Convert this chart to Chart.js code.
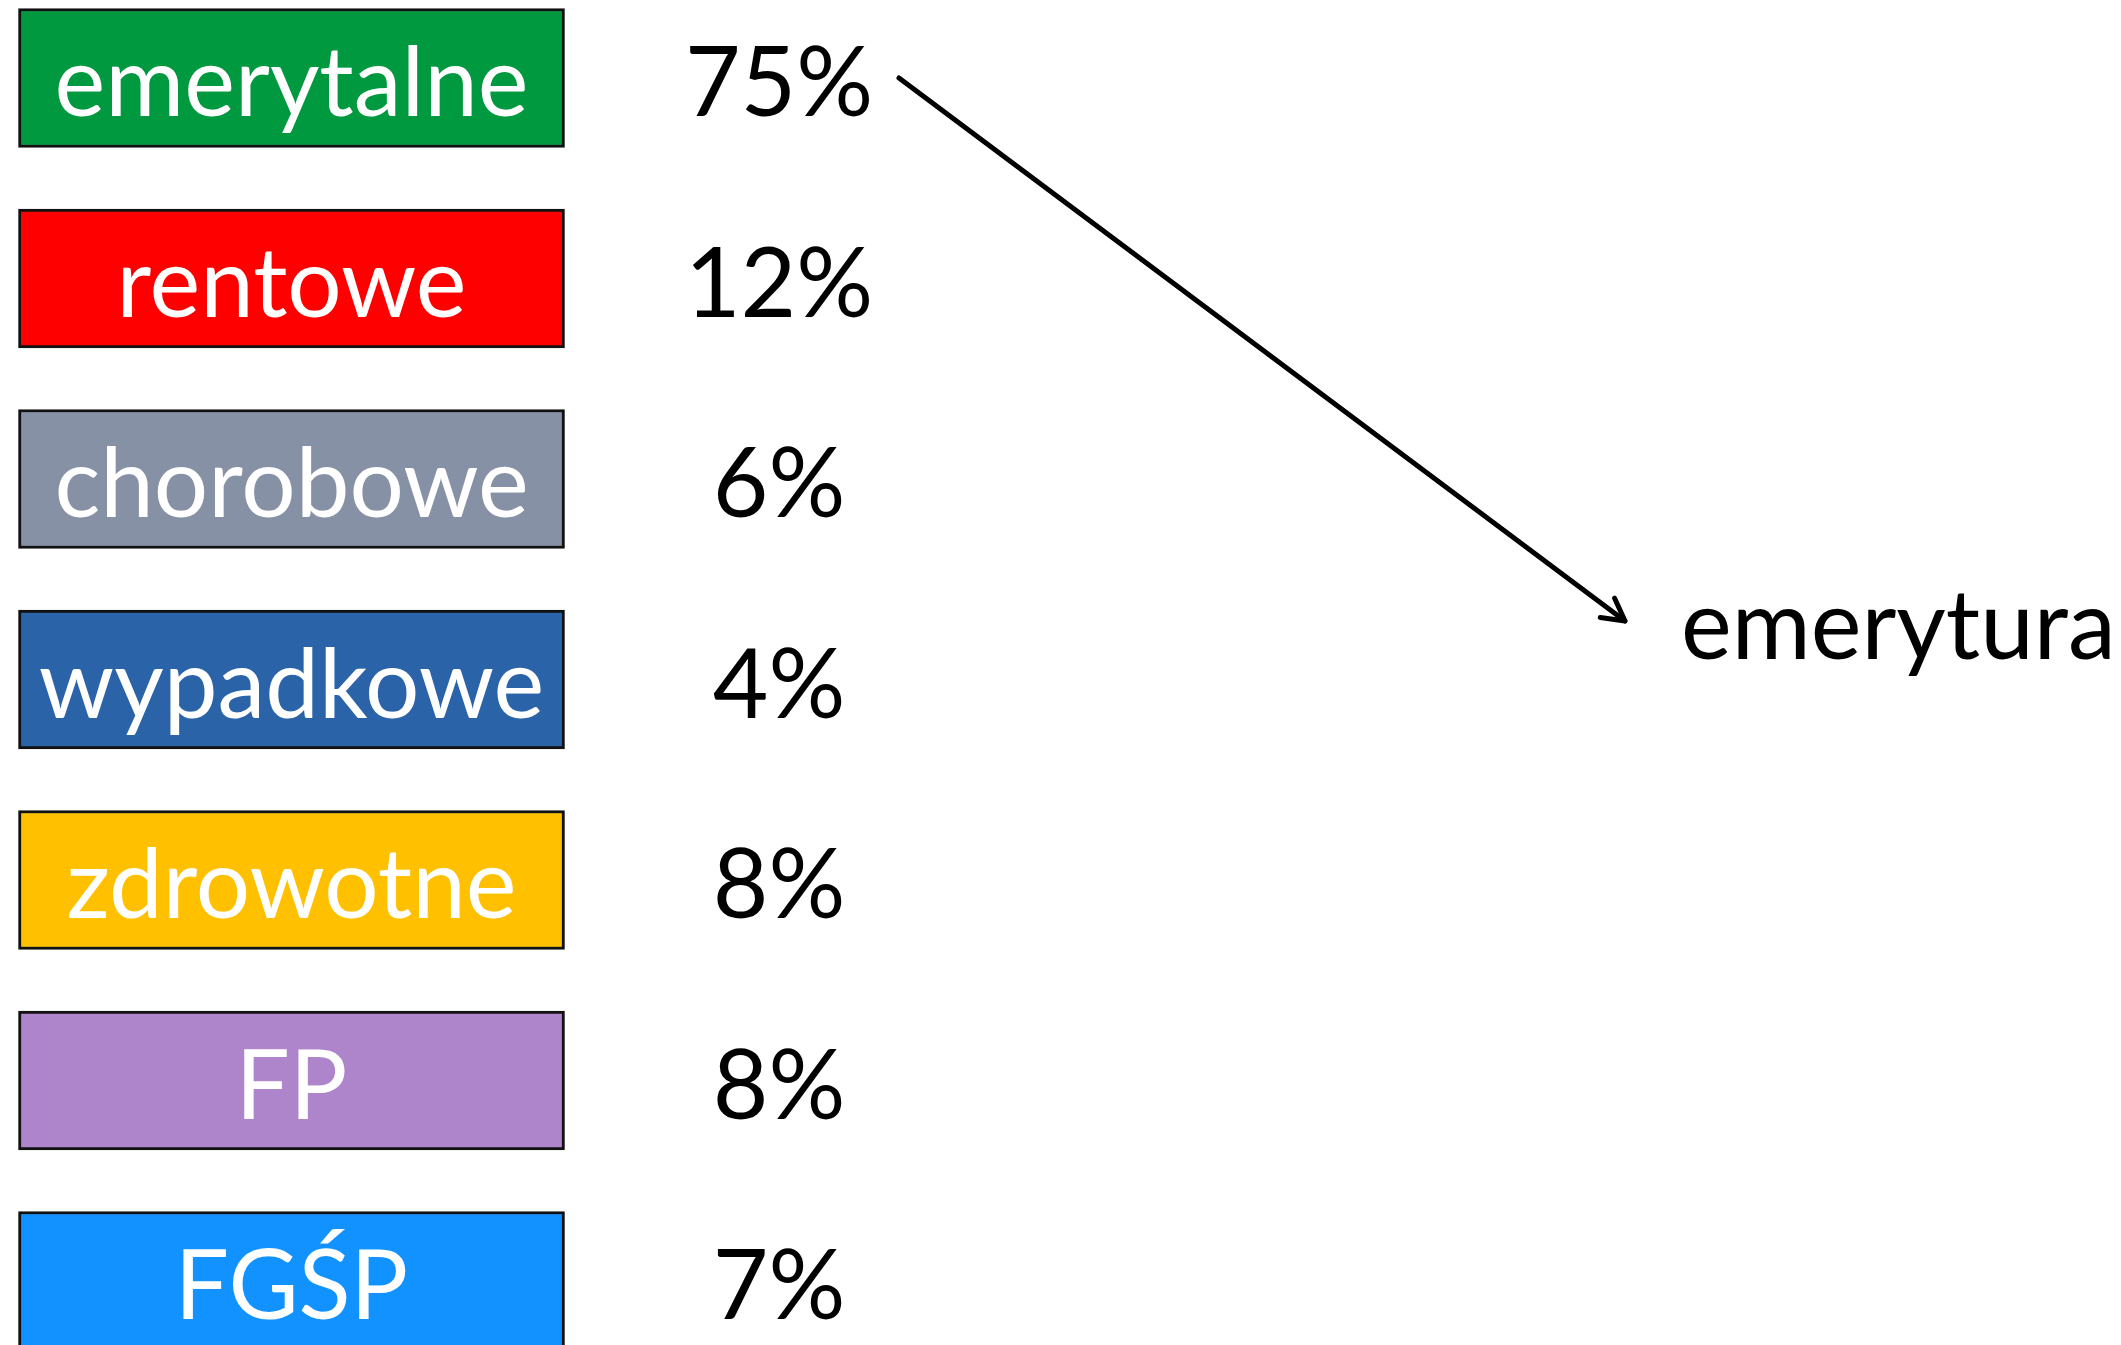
<!DOCTYPE html>
<html>
<head>
<meta charset="utf-8">
<script src="https://cdn.jsdelivr.net/npm/chart.js@4.4.1/dist/chart.umd.min.js"></script>
<style>
  html, body { margin: 0; padding: 0; background: #ffffff; overflow: hidden; }
  #wrap { width: 2121px; height: 1345px; }
  canvas { display: block; }
</style>
</head>
<body>
<div id="wrap"><canvas id="c" width="2121" height="1345"></canvas></div>
<script>
// ---- data ----
const categories = ['emerytalne', 'rentowe', 'chorobowe', 'wypadkowe', 'zdrowotne', 'FP', 'FGŚP'];
const sharePercent = [75, 12, 6, 4, 8, 8, 7];
const tileColors = ['#00993F', '#FF0000', '#8791A5', '#2A63A8', '#FFC000', '#AE85CB', '#1192FF'];
const tileFill = [1, 1, 1, 1, 1, 1, 1];
const pointerFrom = 'emerytalne';
const pointerLabel = 'emerytura';

// ---- overlay plugin: tile labels, percentages, arrow ----
const overlay = {
  id: 'overlay',
  afterDatasetsDraw(chart, args, o) {
    const { ctx, scales: { x, y } } = chart;
    ctx.save();
    ctx.font = `${o.fontSize}px Lato, "Open Sans", sans-serif`;
    ctx.textBaseline = 'alphabetic';
    ctx.textAlign = 'center';
    const meta = chart.getDatasetMeta(0);
    meta.data.forEach((bar, i) => {
      const by = bar.y + o.baselineShift;
      ctx.fillStyle = '#ffffff';
      ctx.fillText(categories[i], (bar.x + bar.base) / 2, by);
      ctx.fillStyle = '#000000';
      ctx.fillText(sharePercent[i] + '%', x.getPixelForValue(o.percentColumn), by);
    });

    // arrow
    const r0 = categories.indexOf(pointerFrom);
    const x0 = x.getPixelForValue(o.arrowFromX), y0 = y.getPixelForValue(r0);
    const x1 = x.getPixelForValue(o.arrowToX), y1 = y.getPixelForValue(o.arrowToRow);
    ctx.strokeStyle = '#000000';
    ctx.lineWidth = o.arrowWidth;
    ctx.lineCap = 'round';
    ctx.lineJoin = 'round';
    ctx.beginPath();
    ctx.moveTo(x0, y0);
    ctx.lineTo(x1, y1);
    ctx.stroke();
    const ang = Math.atan2(y1 - y0, x1 - x0);
    const hl = 25, ha = 0.5;
    ctx.beginPath();
    ctx.moveTo(x1 - hl * Math.cos(ang - ha), y1 - hl * Math.sin(ang - ha));
    ctx.lineTo(x1, y1);
    ctx.lineTo(x1 - hl * Math.cos(ang + ha), y1 - hl * Math.sin(ang + ha));
    ctx.stroke();

    // target label
    ctx.textAlign = 'left';
    ctx.fillStyle = '#000000';
    ctx.fillText(pointerLabel, x.getPixelForValue(o.targetX), y1 + o.baselineShift);
    ctx.restore();
  }
};

new Chart(document.getElementById('c'), {
  type: 'bar',
  data: {
    labels: categories,
    datasets: [{
      data: tileFill,
      backgroundColor: tileColors,
      borderColor: '#111111',
      borderWidth: 3,
      borderSkipped: false,
      barThickness: 139,
      clip: false
    }]
  },
  options: {
    indexAxis: 'y',
    responsive: false,
    animation: false,
    events: [],
    layout: { padding: { top: 78, bottom: 64, left: 0, right: 0 } },
    scales: {
      x: { type: 'linear', min: -0.0339, max: 3.8507, display: false, grid: { display: false } },
      y: { type: 'category', offset: false, display: false, grid: { display: false } }
    },
    plugins: {
      legend: { display: false },
      tooltip: { enabled: false },
      overlay: {
        fontSize: 96,
        baselineShift: 38,
        percentColumn: 1.393,
        arrowFromX: 1.6126,
        arrowToX: 2.9423,
        arrowToRow: 2.708,
        targetX: 3.045,
        arrowWidth: 5
      }
    }
  },
  plugins: [overlay]
});
</script>
</body>
</html>
